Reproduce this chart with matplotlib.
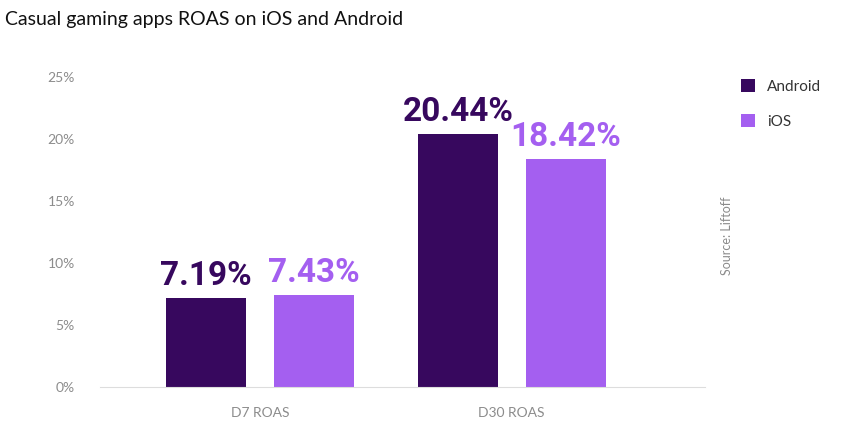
import matplotlib
matplotlib.use("Agg")
import matplotlib.pyplot as plt
import numpy as np

categories = ["D7 ROAS", "D30 ROAS"]
android = [7.19, 20.44]
ios = [7.43, 18.42]
yticks = [0, 5, 10, 15, 20, 25]

c_and = "#37085e"
c_ios = "#a45ff0"
gray = "#8c8c8c"

fig = plt.figure(figsize=(8.46, 4.24), dpi=100)
ax = fig.add_axes([0.118, 0.087, 0.715, 0.731])
x = np.arange(len(categories))
w = 0.317
off = 0.214
b1 = ax.bar(x - off, android, w, color=c_and, label="Android")
b2 = ax.bar(x + off, ios, w, color=c_ios, label="iOS")
for bars, vals, col in [(b1, android, c_and), (b2, ios, c_ios)]:
    for b, v in zip(bars, vals):
        ax.text(b.get_x() + b.get_width() / 2, v + 0.5, f"{v:.2f}%", ha="center", va="bottom",
                fontsize=24, fontweight="bold", color=col, family="Roboto")
ax.set_xlim(-0.635, 1.766)
ax.set_ylim(0, 25)
ax.set_yticks(yticks)
ax.set_yticklabels([f"{t}%" for t in yticks], color=gray, fontsize=10, family="Lato")
ax.set_xticks(x)
ax.set_xticklabels(categories, color=gray, fontsize=10, family="Lato")
ax.tick_params(length=0, pad=18, axis="y")
ax.tick_params(length=0, pad=14, axis="x")
for s in ["top", "right", "left"]:
    ax.spines[s].set_visible(False)
ax.spines["bottom"].set_color("#dddddd")

fig.text(0.006, 0.955, "Casual gaming apps ROAS on iOS and Android", fontsize=14, family="Lato", va="center", color="#111111")
fig.legend(handles=[b1, b2], loc="upper left", bbox_to_anchor=(0.86, 0.845), frameon=False,
           prop={"family": "Lato", "size": 11}, handlelength=0.9, handleheight=0.9, labelspacing=1.3, labelcolor="#333333")
fig.text(0.859, 0.445, "Source: Liftoff", rotation=90, fontsize=9, color=gray, family="Lato", ha="center", va="center")
fig.savefig("out.png", dpi=100)
